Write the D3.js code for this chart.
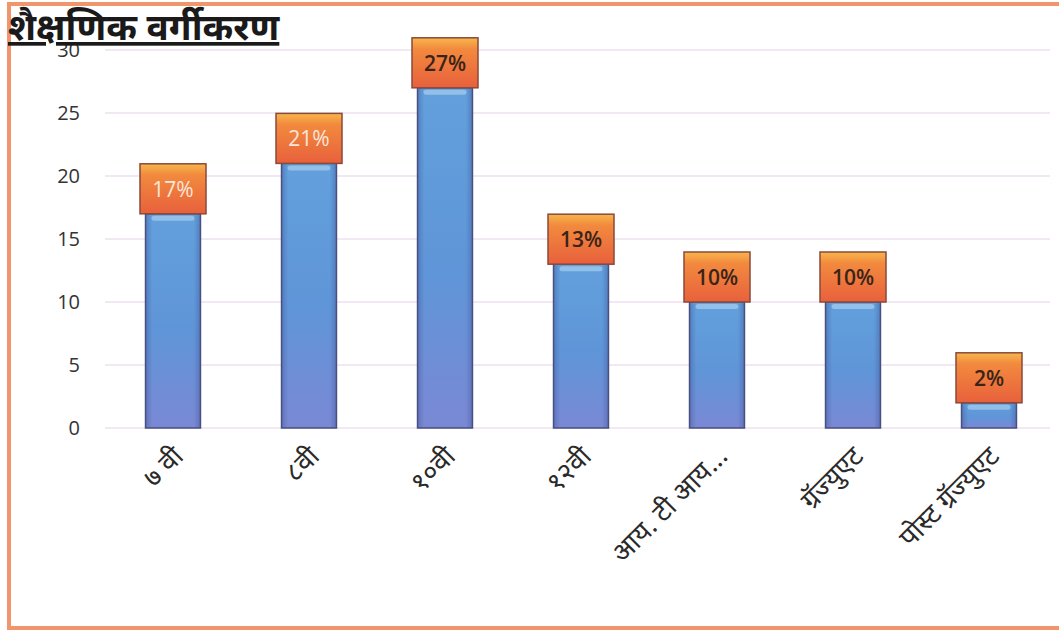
<!DOCTYPE html>
<html>
<head>
<meta charset="utf-8">
<script src="https://cdn.jsdelivr.net/npm/d3@7/dist/d3.min.js"></script>
<style>
  html, body { margin: 0; padding: 0; background: #ffffff; }
  svg { display: block; }
</style>
</head>
<body>
<svg id="chart" width="1059" height="634"></svg>
<script>
// Educational classification: share of respondents by level (percent)
const categories = ["७ वी", "८वी", "१०वी", "१२वी", "आय. टी आय...", "ग्रॅज्युएट", "पोस्ट ग्रॅज्युएट"];
const percentValues = [17, 21, 27, 13, 10, 10, 2];
const labelTexts = ["17%", "21%", "27%", "13%", "10%", "10%", "2%"];
const yTicks = [0, 5, 10, 15, 20, 25, 30];
const titleText = "शैक्षणिक वर्गीकरण";

const svg = d3.select("#chart");
const W = 1059, H = 634;
const plot = { left: 105, right: 1057, top: 50, bottom: 428 };

const x = d3.scaleBand()
  .domain(categories)
  .range([plot.left, plot.right])
  .paddingInner(0.596)
  .paddingOuter(0.298);

const y = d3.scaleLinear()
  .domain([0, 30])
  .range([plot.bottom, plot.top]);

// gradients
const defs = svg.append("defs");
const blueGrad = defs.append("linearGradient")
  .attr("id", "blueFill").attr("x1", 0).attr("y1", 0).attr("x2", 0).attr("y2", 1);
blueGrad.append("stop").attr("offset", "0%").attr("stop-color", "#62a0dc");
blueGrad.append("stop").attr("offset", "55%").attr("stop-color", "#5f95d8");
blueGrad.append("stop").attr("offset", "100%").attr("stop-color", "#7a88d4");

const blueSide = defs.append("linearGradient")
  .attr("id", "blueSide").attr("x1", 0).attr("y1", 0).attr("x2", 1).attr("y2", 0);
blueSide.append("stop").attr("offset", "0%").attr("stop-color", "#3e4f8f").attr("stop-opacity", 0.4);
blueSide.append("stop").attr("offset", "12%").attr("stop-color", "#3e4f8f").attr("stop-opacity", 0);
blueSide.append("stop").attr("offset", "88%").attr("stop-color", "#3e4f8f").attr("stop-opacity", 0);
blueSide.append("stop").attr("offset", "100%").attr("stop-color", "#3e4f8f").attr("stop-opacity", 0.4);

const orangeGrad = defs.append("linearGradient")
  .attr("id", "orangeFill").attr("x1", 0).attr("y1", 0).attr("x2", 0).attr("y2", 1);
orangeGrad.append("stop").attr("offset", "0%").attr("stop-color", "#f7b74c");
orangeGrad.append("stop").attr("offset", "22%").attr("stop-color", "#f28a3e");
orangeGrad.append("stop").attr("offset", "100%").attr("stop-color", "#e8603c");

// outer frame
svg.append("path")
  .attr("d", `M${W + 5},4 L9,4 L9,628 L${W + 5},628`)
  .attr("fill", "none")
  .attr("stroke", "#f0956c")
  .attr("stroke-width", 4);

// gridlines
svg.append("g")
  .selectAll("line")
  .data(yTicks)
  .join("line")
  .attr("x1", plot.left)
  .attr("x2", 1050)
  .attr("y1", d => y(d))
  .attr("y2", d => y(d))
  .attr("stroke", "#eee0f0")
  .attr("stroke-width", 1.5);

// y axis labels
const yAxis = d3.axisLeft(y).tickValues(yTicks).tickSize(0).tickPadding(0);
const yG = svg.append("g")
  .attr("transform", "translate(80,0)")
  .call(yAxis);
yG.select(".domain").remove();
yG.selectAll("text")
  .attr("font-family", "'Open Sans', 'Liberation Sans', sans-serif")
  .attr("font-size", 20)
  .attr("fill", "#333333");

// bars
const bars = svg.append("g");
bars.selectAll("rect.bar")
  .data(percentValues)
  .join("rect")
  .attr("class", "bar")
  .attr("x", (d, i) => x(categories[i]))
  .attr("y", d => y(d))
  .attr("width", x.bandwidth())
  .attr("height", d => y(0) - y(d))
  .attr("fill", "url(#blueFill)")
  .attr("stroke", "#4a4f7e")
  .attr("stroke-width", 1.5);
bars.selectAll("rect.side")
  .data(percentValues)
  .join("rect")
  .attr("class", "side")
  .attr("x", (d, i) => x(categories[i]))
  .attr("y", d => y(d))
  .attr("width", x.bandwidth())
  .attr("height", d => y(0) - y(d))
  .attr("fill", "url(#blueSide)");
// soft highlight at the bar top
bars.selectAll("rect.hi")
  .data(percentValues)
  .join("rect")
  .attr("class", "hi")
  .attr("x", (d, i) => x(categories[i]) + 6)
  .attr("y", d => y(d) + 2)
  .attr("width", x.bandwidth() - 12)
  .attr("height", d => Math.min(5, y(0) - y(d) - 3))
  .attr("rx", 3)
  .attr("fill", "#b9daf6")
  .attr("opacity", 0.55);

// value label boxes
const boxW = 66, boxH = 50;
const labels = svg.append("g");
labels.selectAll("rect")
  .data(percentValues)
  .join("rect")
  .attr("x", (d, i) => x(categories[i]) + x.bandwidth() / 2 - boxW / 2)
  .attr("y", d => y(d) - boxH)
  .attr("width", boxW)
  .attr("height", boxH)
  .attr("fill", "url(#orangeFill)")
  .attr("stroke", "#8a4a3a")
  .attr("stroke-width", 1.5);
labels.selectAll("text")
  .data(percentValues)
  .join("text")
  .attr("x", (d, i) => x(categories[i]) + x.bandwidth() / 2)
  .attr("y", d => y(d) - boxH / 2 + 8)
  .attr("text-anchor", "middle")
  .attr("font-family", "'Open Sans', 'Lato', sans-serif")
  .attr("font-size", 21)
  .attr("font-weight", (d, i) => i < 2 ? 400 : 600)
  .attr("fill", (d, i) => i < 2 ? "#fbe6dc" : "#3a2418")
  .text((d, i) => labelTexts[i]);

// category labels, rotated
svg.append("g")
  .selectAll("text")
  .data(categories)
  .join("text")
  .attr("transform", d => `translate(${x(d) + x.bandwidth() / 2 + 12},458) rotate(-45)`)
  .attr("text-anchor", "end")
  .attr("font-family", "'Noto Sans Devanagari', 'Noto Sans', sans-serif")
  .attr("font-size", 27)
  .attr("fill", "#2a2a2a")
  .text(d => d);

// title
svg.append("text")
  .attr("x", 8)
  .attr("y", 40)
  .attr("font-family", "'Noto Sans Devanagari', 'Noto Sans', sans-serif")
  .attr("font-weight", "bold")
  .attr("font-size", 37)
  .attr("fill", "#1a1a1a")
  .attr("text-decoration", "underline")
  .text(titleText);
</script>
</body>
</html>
